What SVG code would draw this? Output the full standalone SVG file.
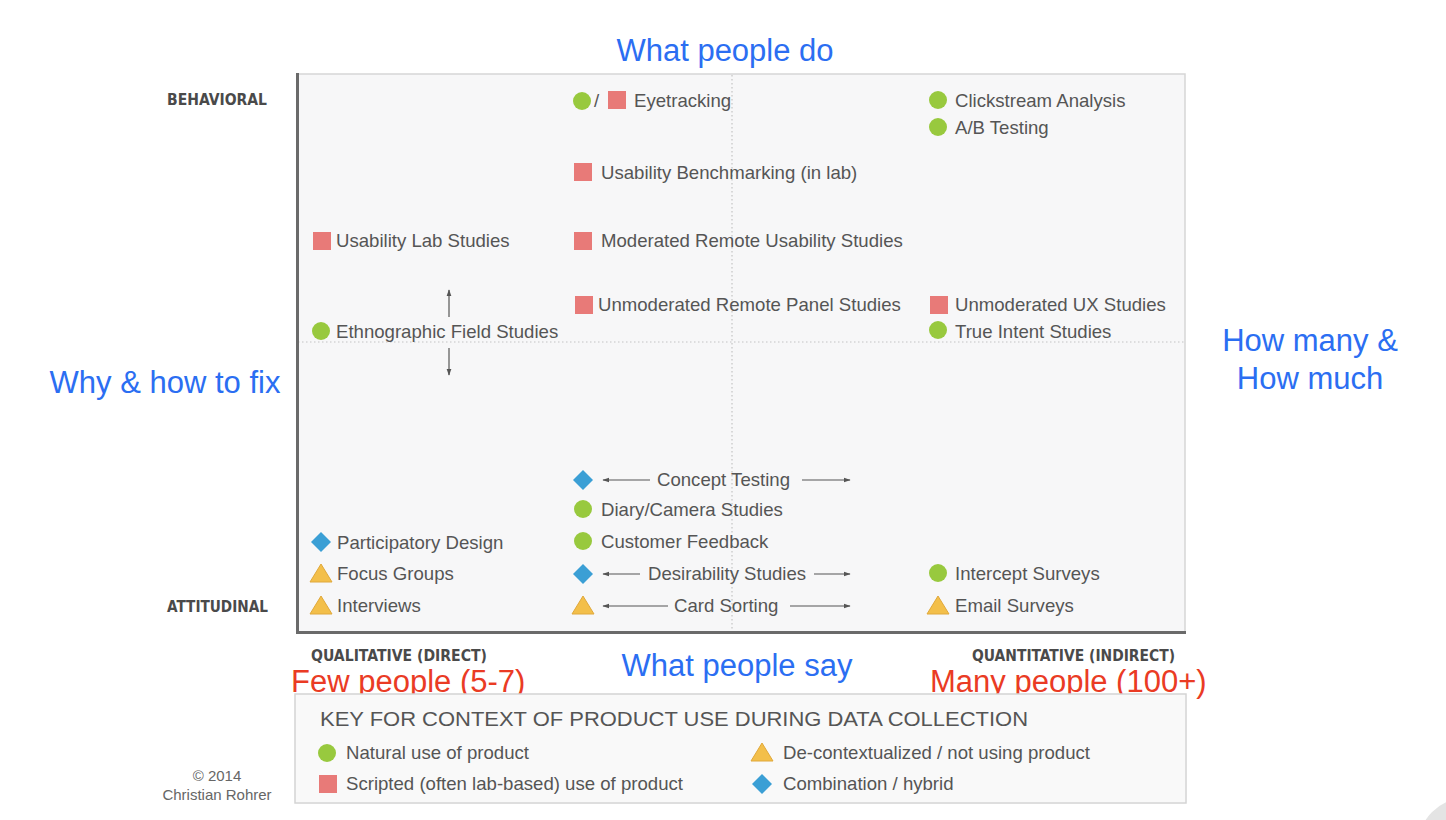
<svg xmlns="http://www.w3.org/2000/svg" width="1446" height="820" viewBox="0 0 1446 820">
  <defs>
    <style>
      .item { font-family: "Liberation Sans", Arial, sans-serif; font-size: 18.6px; fill: #555; }
      .blue { font-family: "Liberation Sans", Arial, sans-serif; font-size: 31px; fill: #2b6ef2; }
      .red { font-family: "Liberation Sans", Arial, sans-serif; font-size: 31px; fill: #ea3b24; }
      .axis { font-family: "DejaVu Sans Condensed", "DejaVu Sans", sans-serif; font-weight: bold; font-size: 15.5px; fill: #4a4a4a; }
      .key { font-family: "Liberation Sans", Arial, sans-serif; font-size: 21px; fill: #555; }
      .credit { font-family: "Liberation Sans", Arial, sans-serif; font-size: 15px; fill: #666; }
      .nat { fill: #98c93e; }
      .scr { fill: #e87a78; }
      .dec { fill: #f3bf4a; stroke: #e0a83a; stroke-width: 1; }
      .hyb { fill: #3b9fd5; }
      .arr { stroke: #555; stroke-width: 1.2; fill: none; }
    </style>
    <marker id="ah" viewBox="0 0 10 10" refX="9" refY="5" markerWidth="7" markerHeight="7" orient="auto-start-reverse" markerUnits="userSpaceOnUse">
      <path d="M0,1.5 L10,5 L0,8.5 Z" fill="#555"/>
    </marker>
    <circle id="c" r="9" class="nat"/>
    <rect id="s" x="-9" y="-9" width="18" height="18" class="scr"/>
    <path id="t" d="M0,-10 L11,8 L-11,8 Z" class="dec"/>
    <path id="d" d="M0,-10 L10,0 L0,10 L-10,0 Z" class="hyb"/>
  </defs>

  <rect width="1446" height="820" fill="#ffffff"/>
  <!-- corner decoration -->
  <circle cx="1466" cy="846" r="48" fill="#e4e4e4"/>

  <!-- quadrant chart frame -->
  <g id="chart-frame">
    <rect x="297" y="74" width="888" height="558" fill="#f7f7f8" stroke="#d6d6d6" stroke-width="1.5"/>
    <line x1="732" y1="75" x2="732" y2="631" stroke="#c4c4c4" stroke-width="1.2" stroke-dasharray="1.5 2.5"/>
    <line x1="298" y1="342" x2="1184" y2="342" stroke="#c4c4c4" stroke-width="1.2" stroke-dasharray="1.5 2.5"/>
    <line x1="297.5" y1="73" x2="297.5" y2="634" stroke="#6a6a6a" stroke-width="3"/>
    <line x1="296" y1="632.5" x2="1186" y2="632.5" stroke="#6a6a6a" stroke-width="3"/>
  </g>

  <!-- axis labels -->
  <g id="axis-labels">
    <text class="axis" x="167" y="105" textLength="100" lengthAdjust="spacingAndGlyphs">BEHAVIORAL</text>
    <text class="axis" x="167" y="612" textLength="101" lengthAdjust="spacingAndGlyphs">ATTITUDINAL</text>
    <text class="axis" x="311" y="661" textLength="176" lengthAdjust="spacingAndGlyphs">QUALITATIVE (DIRECT)</text>
    <text class="axis" x="972" y="661" textLength="203" lengthAdjust="spacingAndGlyphs">QUANTITATIVE (INDIRECT)</text>
  </g>

  <!-- annotations -->
  <g id="annotations">
    <text class="blue" x="725" y="61" text-anchor="middle">What people do</text>
    <text class="blue" x="165" y="393" text-anchor="middle">Why &amp; how to fix</text>
    <text class="blue" x="1310" y="351" text-anchor="middle">How many &amp;</text>
    <text class="blue" x="1310" y="389" text-anchor="middle">How much</text>
    <text class="blue" x="737" y="676" text-anchor="middle">What people say</text>
    <text class="red" x="291" y="692">Few people (5-7)</text>
    <text class="red" x="930" y="692">Many people (100+)</text>
  </g>

  <!-- connectors -->
  <g id="connectors">
    <line class="arr" x1="449" y1="317" x2="449" y2="290" marker-end="url(#ah)"/>
    <line class="arr" x1="449" y1="348" x2="449" y2="375" marker-end="url(#ah)"/>
    <line class="arr" x1="650" y1="480" x2="603" y2="480" marker-end="url(#ah)"/>
    <line class="arr" x1="802" y1="480" x2="850" y2="480" marker-end="url(#ah)"/>
    <line class="arr" x1="640" y1="574" x2="603" y2="574" marker-end="url(#ah)"/>
    <line class="arr" x1="814" y1="574" x2="850" y2="574" marker-end="url(#ah)"/>
    <line class="arr" x1="668" y1="606" x2="603" y2="606" marker-end="url(#ah)"/>
    <line class="arr" x1="790" y1="606" x2="850" y2="606" marker-end="url(#ah)"/>
  </g>

  <!-- methods -->
  <g id="eyetracking">
    <use href="#c" x="582" y="101"/>
    <text class="item" x="594" y="107">/</text>
    <use href="#s" x="617" y="100"/>
    <text class="item" x="634" y="107">Eyetracking</text>
  </g>
  <g id="clickstream-analysis">
    <use href="#c" x="938" y="100"/>
    <text class="item" x="955" y="107">Clickstream Analysis</text>
  </g>
  <g id="ab-testing">
    <use href="#c" x="938" y="127"/>
    <text class="item" x="955" y="134">A/B Testing</text>
  </g>
  <g id="usability-benchmarking">
    <use href="#s" x="583" y="172"/>
    <text class="item" x="601" y="179">Usability Benchmarking (in lab)</text>
  </g>
  <g id="usability-lab-studies">
    <use href="#s" x="322" y="241"/>
    <text class="item" x="336" y="247">Usability Lab Studies</text>
  </g>
  <g id="moderated-remote-usability">
    <use href="#s" x="583" y="241"/>
    <text class="item" x="601" y="247">Moderated Remote Usability Studies</text>
  </g>
  <g id="unmoderated-remote-panel">
    <use href="#s" x="584" y="305"/>
    <text class="item" x="598" y="311">Unmoderated Remote Panel Studies</text>
  </g>
  <g id="unmoderated-ux">
    <use href="#s" x="939" y="305"/>
    <text class="item" x="955" y="311">Unmoderated UX Studies</text>
  </g>
  <g id="true-intent">
    <use href="#c" x="938" y="330"/>
    <text class="item" x="955" y="338">True Intent Studies</text>
  </g>
  <g id="ethnographic-field">
    <use href="#c" x="321" y="331"/>
    <text class="item" x="336" y="338">Ethnographic Field Studies</text>
  </g>
  <g id="concept-testing">
    <use href="#d" x="583" y="480"/>
    <text class="item" x="657" y="486">Concept Testing</text>
  </g>
  <g id="diary-camera">
    <use href="#c" x="583" y="509"/>
    <text class="item" x="601" y="516">Diary/Camera Studies</text>
  </g>
  <g id="customer-feedback">
    <use href="#c" x="583" y="541"/>
    <text class="item" x="601" y="548">Customer Feedback</text>
  </g>
  <g id="desirability-studies">
    <use href="#d" x="583" y="574"/>
    <text class="item" x="648" y="580">Desirability Studies</text>
  </g>
  <g id="card-sorting">
    <use href="#t" x="583" y="606"/>
    <text class="item" x="674" y="612">Card Sorting</text>
  </g>
  <g id="participatory-design">
    <use href="#d" x="321" y="542"/>
    <text class="item" x="337" y="549">Participatory Design</text>
  </g>
  <g id="focus-groups">
    <use href="#t" x="321" y="574"/>
    <text class="item" x="337" y="580">Focus Groups</text>
  </g>
  <g id="interviews">
    <use href="#t" x="321" y="606"/>
    <text class="item" x="337" y="612">Interviews</text>
  </g>
  <g id="intercept-surveys">
    <use href="#c" x="938" y="573"/>
    <text class="item" x="955" y="580">Intercept Surveys</text>
  </g>
  <g id="email-surveys">
    <use href="#t" x="938" y="606"/>
    <text class="item" x="955" y="612">Email Surveys</text>
  </g>

  <!-- legend -->
  <g id="legend">
    <rect x="295" y="694" width="891" height="109" fill="#f9f9f9" stroke="#d4d4d4" stroke-width="1.5"/>
    <text class="key" x="320" y="726" textLength="708" lengthAdjust="spacingAndGlyphs">KEY FOR CONTEXT OF PRODUCT USE DURING DATA COLLECTION</text>
    <use href="#c" x="327" y="753"/>
    <text class="item" x="346" y="759">Natural use of product</text>
    <use href="#s" x="328" y="784"/>
    <text class="item" x="346" y="790">Scripted (often lab-based) use of product</text>
    <use href="#t" x="762" y="753"/>
    <text class="item" x="783" y="759">De-contextualized / not using product</text>
    <use href="#d" x="762" y="784"/>
    <text class="item" x="783" y="790">Combination / hybrid</text>
  </g>

  <g id="credit">
    <text class="credit" x="217" y="781" text-anchor="middle">© 2014</text>
    <text class="credit" x="217" y="800" text-anchor="middle">Christian Rohrer</text>
  </g>
</svg>
